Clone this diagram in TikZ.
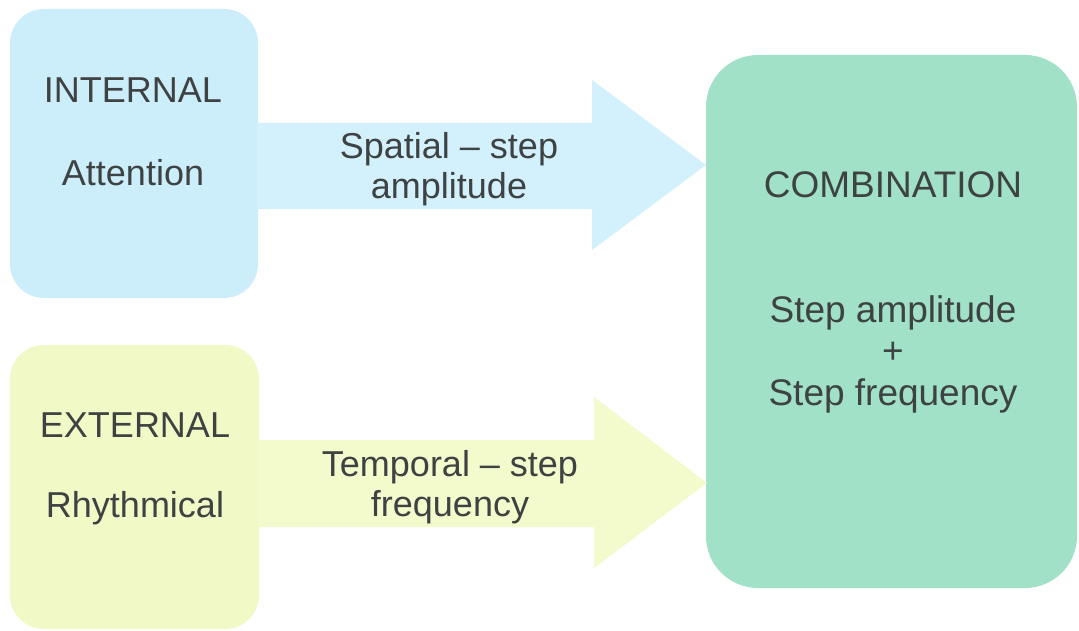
\documentclass[tikz,border=0pt]{standalone}
\usepackage{fontspec}
\setmainfont{Liberation Sans}
\definecolor{blueBox}{RGB}{204,238,250}
\definecolor{blueArr}{RGB}{210,241,252}
\definecolor{yelBox}{RGB}{241,249,198}
\definecolor{yelArr}{RGB}{243,250,204}
\definecolor{greenBox}{RGB}{160,225,200}
\definecolor{txt}{RGB}{62,66,66}
\tikzset{
  lbl/.style={text=txt, font=\fontsize{36}{40}\selectfont, inner sep=0pt, align=center},
}
\begin{document}
\begin{tikzpicture}[x=1pt,y=-1pt]
\useasboundingbox[fill=white] (0,0) rectangle (1079,631);
% boxes
\fill[blueBox, rounded corners=34pt] (10,9) rectangle (258,298);
\fill[yelBox, rounded corners=34pt] (10,345) rectangle (259,629);
\fill[greenBox, rounded corners=52pt] (706,55) rectangle (1077,588);
% arrows
\fill[blueArr] (257,123) -- (592,123) -- (592,80) -- (706,165) -- (592,250) -- (592,209) -- (257,209) -- cycle;
\fill[yelArr] (258,440) -- (594,440) -- (594,397) -- (707,483) -- (594,568) -- (594,527) -- (258,527) -- cycle;
% labels
\node[lbl] (int) at (133,90) {INTERNAL};
\node[lbl] (att) at (133,173) {Attention};
\node[lbl] (spa) at (449,169) {Spatial -- step\\amplitude};
\node[lbl] (ext) at (135,425) {EXTERNAL};
\node[lbl] (rhy) at (135,508) {Rhythmical};
\node[lbl] (tem) at (450,487) {Temporal -- step\\frequency};
\node[lbl, font=\fontsize{37}{40}\selectfont] (com) at (893,185) {COMBINATION};
\node[lbl, font=\fontsize{37}{41.5}\selectfont] (res) at (893,354) {Step amplitude\\+\\Step frequency};
\end{tikzpicture}
\end{document}
